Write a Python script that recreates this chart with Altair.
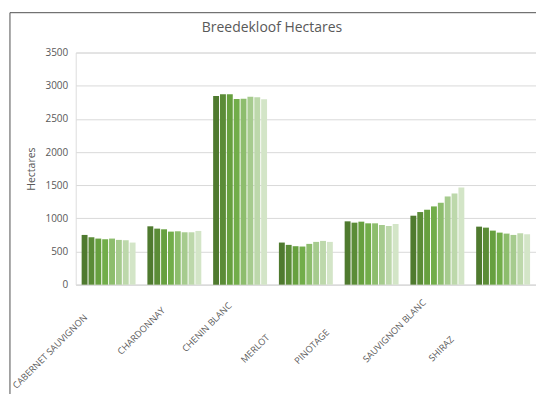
import altair as alt
import pandas as pd

# Grape varieties on the x axis
categories = ["CABERNET SAUVIGNON", "CHARDONNAY", "CHENIN BLANC", "MERLOT",
              "PINOTAGE", "SAUVIGNON BLANC", "SHIRAZ"]

# Eight consecutive survey series, oldest first
series = ["S1", "S2", "S3", "S4", "S5", "S6", "S7", "S8"]

# Hectares per variety, one value per series
cabernet_sauvignon = [750, 715, 695, 685, 695, 675, 670, 635]
chardonnay = [880, 845, 835, 800, 805, 790, 790, 810]
chenin_blanc = [2845, 2870, 2870, 2800, 2805, 2835, 2825, 2795]
merlot = [635, 600, 580, 575, 615, 645, 660, 645]
pinotage = [955, 935, 950, 925, 925, 900, 885, 915]
sauvignon_blanc = [1040, 1095, 1130, 1180, 1235, 1330, 1375, 1465]
shiraz = [875, 860, 815, 785, 770, 750, 775, 760]

y_ticks = [0, 500, 1000, 1500, 2000, 2500, 3000, 3500]

greens = ["#4f7a2f", "#5b8c37", "#67a03f", "#72ad4a",
          "#8dbd6d", "#a6cb8e", "#bdd8ab", "#d3e5c7"]

rows = []
for cat, vals in zip(categories, [cabernet_sauvignon, chardonnay, chenin_blanc,
                                  merlot, pinotage, sauvignon_blanc, shiraz]):
    for s, v in zip(series, vals):
        rows.append({"variety": cat, "series": s, "hectares": v})
df = pd.DataFrame(rows)

FONT = "Open Sans"
TEXT = "#595959"
GRID = "#d9d9d9"

# Staggered placement of the slanted category labels: (shift along axis, gap below axis)
label_place = {
    "CABERNET SAUVIGNON": (-23, 31),
    "CHARDONNAY": (-11, 24),
    "CHENIN BLANC": (-10, 19),
    "MERLOT": (-38, 51),
    "PINOTAGE": (-44, 46),
    "SAUVIGNON BLANC": (-13, 16),
    "SHIRAZ": (-51, 53),
}


def label_expr(idx, default):
    expr = str(default)
    for name, place in label_place.items():
        expr = f"datum.label == '{name}' ? {place[idx]} : ({expr})"
    return {"expr": expr}


bars = alt.Chart(df).mark_bar().encode(
    x=alt.X("variety:N", sort=categories, title=None,
            scale=alt.Scale(paddingInner=0.18, paddingOuter=0.09),
            axis=alt.Axis(labelAngle=-45, labelAlign="right", labelBaseline="middle",
                          labelOffset=label_expr(0, -25),
                          labelPadding=label_expr(1, 26), ticks=False,
                          domainColor=GRID, labelColor=TEXT, labelFont=FONT,
                          labelFontSize=9.2, grid=False)),
    xOffset=alt.XOffset("series:N", sort=series,
                        scale=alt.Scale(paddingInner=0.14)),
    y=alt.Y("hectares:Q", title="Hectares",
            scale=alt.Scale(domain=[0, 3500], nice=False),
            axis=alt.Axis(values=y_ticks, format="d", grid=True, gridColor=GRID,
                          domain=False, ticks=False, labelPadding=8,
                          labelColor=TEXT, labelFont=FONT, labelFontSize=10,
                          titleFont=FONT, titleFontSize=10.5,
                          titleFontWeight="normal", titleColor=TEXT,
                          titlePadding=9)),
    color=alt.Color("series:N", sort=series,
                    scale=alt.Scale(domain=series, range=greens), legend=None),
)

frame_df = pd.DataFrame({"k": [0]})
left_edge = alt.Chart(frame_df).mark_rule(color="#505050", strokeWidth=1).encode(
    x=alt.value(-66), y=alt.value(-40), y2=alt.value(345))
top_edge = alt.Chart(frame_df).mark_rule(color="#505050", strokeWidth=1).encode(
    x=alt.value(-66), x2=alt.value(470), y=alt.value(-40))

chart = alt.layer(bars, left_edge, top_edge).properties(
    width=462,
    height=233,
    title=alt.TitleParams("Breedekloof Hectares", font=FONT, fontSize=14,
                          fontWeight="normal", color=TEXT, anchor="middle",
                          frame="group", dx=-34, offset=-23),
    autosize=alt.AutoSizeParams(type="none"),
    padding={"left": 76, "top": 52, "right": 0, "bottom": 109},
).configure_view(stroke=None).configure(background="white")

chart.save("out.html", embed_options={"renderer": "svg", "actions": False})
